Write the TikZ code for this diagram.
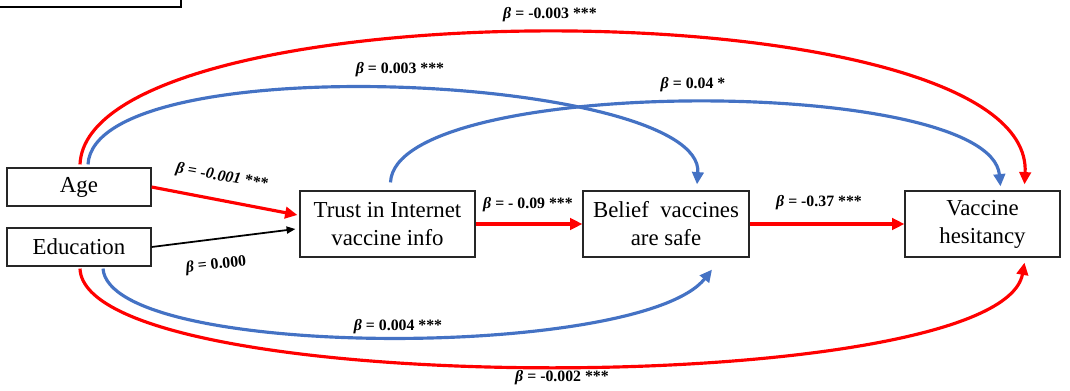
\documentclass[tikz,border=0pt]{standalone}
\usepackage{fontspec}
\setmainfont{Liberation Serif}
\usetikzlibrary{positioning,calc,arrows.meta}
\definecolor{PathRed}{HTML}{FF0000}
\definecolor{PathBlue}{HTML}{4472C4}

\tikzset{
  varbox/.style={draw=black!85,line width=0.7pt,fill=white,align=center,
    font=\fontsize{13}{16}\selectfont,inner sep=2pt},
  redpath/.style={draw=PathRed,line width=1.8pt,-{Triangle[length=7pt,width=6.5pt]}},
  bluepath/.style={draw=PathBlue,line width=1.8pt,-{Triangle[length=7pt,width=6.5pt]}},
  blackpath/.style={draw=black,line width=1pt,-{Triangle[length=5pt,width=4pt]}},
  coef/.style={font=\fontsize{9}{10}\selectfont\bfseries,inner sep=1pt},
}
\newcommand{\bet}{\textit{β}}

\begin{document}
\begin{tikzpicture}[x=0.02cm,y=-0.02cm]
        \clip (0,0) rectangle (1070,391);
        % cut-off box in the corner
        \draw[line width=0.7pt] (-10,-40) rectangle (181,7);

        % variables
        \node[varbox,minimum width=2.88cm,minimum height=0.76cm] (age) at (79,187) {Age};
        \node[varbox,minimum width=2.88cm,minimum height=0.76cm] (edu) at (79,247) {Education};
        \node[varbox,minimum width=3.5cm,minimum height=1.32cm] (trust) at (387.5,224) {Trust in Internet\\vaccine info};
        \node[varbox,minimum width=3.32cm,minimum height=1.32cm] (belief) at (666,224) {Belief~ vaccines\\are safe};
        \node[varbox,minimum width=3.1cm,minimum height=1.32cm] (hes) at (982.5,224) {Vaccine\\hesitancy};

        % direct paths
        \draw[redpath] (age.east) -- ($(trust.west)+(-2,-9)$);
        \draw[blackpath] (edu.east) -- ($(trust.west)+(-4,5)$);
        \draw[redpath] (trust.east) -- (belief.west);
        \draw[redpath] (belief.east) -- (hes.west);

        % curved paths
        \draw[redpath] ($(age.north)+(1,-3)$) .. controls (88,-15) and (1035,-15) .. ($(hes.north)+(42,-6)$);
        \draw[bluepath] ($(age.north)+(9,-3)$) .. controls (95,45) and (705,75) .. ($(belief.north)+(31,-6)$);
        \draw[bluepath] ($(trust.north)+(3,-8)$) .. controls (395,75) and (990,75) .. ($(hes.north)+(18,-4)$);
        \draw[bluepath] ($(edu.south)+(24,2)$) .. controls (110,360) and (640,360) .. ($(belief.south)+(46,12)$);
        \draw[redpath] ($(edu.south)+(1,2)$) .. controls (85,400) and (1000,400) .. ($(hes.south)+(42,5)$);

        % coefficients
        \node[coef] (c-age-hes) at (550,15) {\bet{} = -0.003 ***};
        \node[coef] (c-age-belief) at (400,70) {\bet{} = 0.003 ***};
        \node[coef] (c-trust-hes) at (693,85) {\bet{} = 0.04 *};
        \node[coef,rotate=-10] (c-age-trust) at (222,177) {\bet{} = \textit{-0.001} ***};
        \node[coef,rotate=6] (c-edu-trust) at (216,265) {\bet{} = 0.000};
        \node[coef] (c-trust-belief) at (528,205) {\bet{} = - 0.09 ***};
        \node[coef] (c-belief-hes) at (819,203) {\bet{} = -0.37 ***};
        \node[coef] (c-edu-belief) at (398,327) {\bet{} = 0.004 ***};
        \node[coef] (c-edu-hes) at (562,378) {\bet{} = -0.002 ***};
      \end{tikzpicture}
\end{document}
